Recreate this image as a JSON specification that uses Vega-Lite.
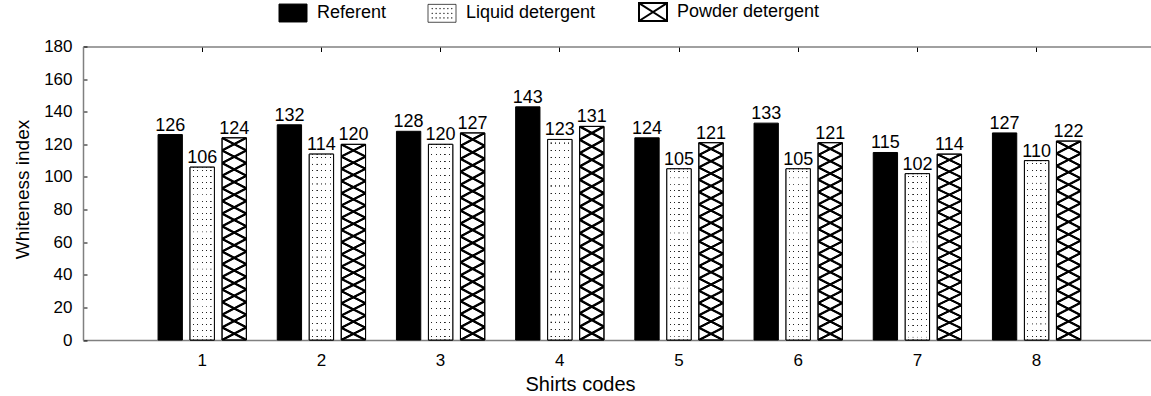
{
  "$schema": "https://vega.github.io/schema/vega-lite/v6.json",
  "autosize": "none",
  "width": 1068,
  "height": 293.5,
  "padding": {"left": 83, "top": 46.5, "right": 0, "bottom": 56},
  "background": "white",
  "config": {
    "font": "Liberation Sans",
    "view": {"stroke": null},
    "axis": {"grid": false, "labelColor": "black", "titleColor": "black", "titleFontWeight": "normal", "labelFont": "Liberation Sans", "titleFont": "Liberation Sans"}
  },
  "data": {
    "values": [
      {"shirt": 1, "type": "Referent", "value": 126},
      {"shirt": 1, "type": "Liquid detergent", "value": 106},
      {"shirt": 1, "type": "Powder detergent", "value": 124},
      {"shirt": 2, "type": "Referent", "value": 132},
      {"shirt": 2, "type": "Liquid detergent", "value": 114},
      {"shirt": 2, "type": "Powder detergent", "value": 120},
      {"shirt": 3, "type": "Referent", "value": 128},
      {"shirt": 3, "type": "Liquid detergent", "value": 120},
      {"shirt": 3, "type": "Powder detergent", "value": 127},
      {"shirt": 4, "type": "Referent", "value": 143},
      {"shirt": 4, "type": "Liquid detergent", "value": 123},
      {"shirt": 4, "type": "Powder detergent", "value": 131},
      {"shirt": 5, "type": "Referent", "value": 124},
      {"shirt": 5, "type": "Liquid detergent", "value": 105},
      {"shirt": 5, "type": "Powder detergent", "value": 121},
      {"shirt": 6, "type": "Referent", "value": 133},
      {"shirt": 6, "type": "Liquid detergent", "value": 105},
      {"shirt": 6, "type": "Powder detergent", "value": 121},
      {"shirt": 7, "type": "Referent", "value": 115},
      {"shirt": 7, "type": "Liquid detergent", "value": 102},
      {"shirt": 7, "type": "Powder detergent", "value": 114},
      {"shirt": 8, "type": "Referent", "value": 127},
      {"shirt": 8, "type": "Liquid detergent", "value": 110},
      {"shirt": 8, "type": "Powder detergent", "value": 122}
    ]
  },
  "resolve": {"axis": {"x": "independent", "y": "independent"}},
  "layer": [
    {
      "mark": {"type": "bar", "stroke": "black", "strokeWidth": 1},
      "encoding": {
        "x": {"field": "shirt", "type": "ordinal",
          "scale": {"domain": [1,2,3,4,5,6,7,8], "paddingInner": 0, "paddingOuter": 0.48, "align": 0.521},
          "axis": {"orient": "bottom", "labelAngle": 0, "labelFontSize": 17, "labelPadding": 17, "tickSize": -5, "tickColor": "black", "domainColor": "#808080", "domainWidth": 1.5,
            "title": "Shirts codes", "titleFontSize": 20, "titleX": 497, "titleY": 50, "titleBaseline": "alphabetic", "titleAlign": "center", "titleAnchor": null}},
        "xOffset": {"field": "type", "type": "nominal",
          "scale": {"domain": ["Referent", "Liquid detergent", "Powder detergent"], "paddingInner": 0.24, "paddingOuter": 0.4825}},
        "y": {"field": "value", "type": "quantitative",
          "scale": {"domain": [0, 180], "nice": false},
          "axis": {"orient": "left", "values": [0,20,40,60,80,100,120,140,160,180], "labelFontSize": 17, "labelPadding": 15, "tickSize": -4, "tickColor": "black", "domainColor": "#808080", "domainWidth": 1.5,
            "title": "Whiteness index", "titleFontSize": 19, "titleX": -55, "titleY": 142.5, "titleBaseline": "alphabetic", "titleAlign": "center", "titleAngle": -90, "titleAnchor": null}},
        "fill": {"field": "type", "type": "nominal",
          "scale": {"domain": ["Referent", "Liquid detergent", "Powder detergent"], "range": ["black", "white", "white"]},
          "legend": {
            "orient": "none", "legendX": 201, "legendY": -43.5, "direction": "horizontal", "columns": 3,
            "title": null, "padding": 0, "symbolSize": 784, "labelFontSize": 18, "labelColor": "black",
            "labelOffset": 15, "columnPadding": 39, "symbolStrokeColor": "black",
            "encode": {
              "symbols": {
                "update": {
                  "shape": {"signal": "datum.value === 'Referent' ? 'M-1,-0.64H1V0.64H-1Z' : datum.value === 'Liquid detergent' ? 'M-1,-0.64H1V0.64H-1Z M-0.72,-0.35h0.04v0.04h-0.04Z M-0.44,-0.35h0.04v0.04h-0.04Z M-0.16,-0.35h0.04v0.04h-0.04Z M0.12,-0.35h0.04v0.04h-0.04Z M0.4,-0.35h0.04v0.04h-0.04Z M0.68,-0.35h0.04v0.04h-0.04Z M-0.72,-0.02h0.04v0.04h-0.04Z M-0.44,-0.02h0.04v0.04h-0.04Z M-0.16,-0.02h0.04v0.04h-0.04Z M0.12,-0.02h0.04v0.04h-0.04Z M0.4,-0.02h0.04v0.04h-0.04Z M0.68,-0.02h0.04v0.04h-0.04Z M-0.72,0.31h0.04v0.04h-0.04Z M-0.44,0.31h0.04v0.04h-0.04Z M-0.16,0.31h0.04v0.04h-0.04Z M0.12,0.31h0.04v0.04h-0.04Z M0.4,0.31h0.04v0.04h-0.04Z M0.68,0.31h0.04v0.04h-0.04Z' : 'M-1,-0.64H1V0.64H-1Z M-1,-0.64L1,0.64 M-1,0.64L1,-0.64'"},
                  "stroke": {"value": "black"},
                  "strokeWidth": {"signal": "datum.value === 'Powder detergent' ? 2 : datum.value === 'Liquid detergent' ? 0.7 : 1"}
                }
              }
            }
          }
        }
      }
    },
    {
      "transform": [{"filter": "datum.type === 'Liquid detergent'"}],
      "mark": {"type": "bar", "fill": {"gradient": "linear", "x1": 0, "y1": 0, "x2": 0, "y2": 1, "stops": [
        {"offset": 0, "color": "rgba(0,0,0,0)"},
        {"offset": 0.0147, "color": "rgba(0,0,0,0)"}, {"offset": 0.0157, "color": "#222"}, {"offset": 0.0201, "color": "#222"}, {"offset": 0.0211, "color": "rgba(0,0,0,0)"},
        {"offset": 0.0504, "color": "rgba(0,0,0,0)"}, {"offset": 0.0514, "color": "#222"}, {"offset": 0.0558, "color": "#222"}, {"offset": 0.0568, "color": "rgba(0,0,0,0)"},
        {"offset": 0.0861, "color": "rgba(0,0,0,0)"}, {"offset": 0.0871, "color": "#222"}, {"offset": 0.0915, "color": "#222"}, {"offset": 0.0925, "color": "rgba(0,0,0,0)"},
        {"offset": 0.1218, "color": "rgba(0,0,0,0)"}, {"offset": 0.1228, "color": "#222"}, {"offset": 0.1272, "color": "#222"}, {"offset": 0.1282, "color": "rgba(0,0,0,0)"},
        {"offset": 0.1575, "color": "rgba(0,0,0,0)"}, {"offset": 0.1585, "color": "#222"}, {"offset": 0.1629, "color": "#222"}, {"offset": 0.1639, "color": "rgba(0,0,0,0)"},
        {"offset": 0.1932, "color": "rgba(0,0,0,0)"}, {"offset": 0.1942, "color": "#222"}, {"offset": 0.1986, "color": "#222"}, {"offset": 0.1996, "color": "rgba(0,0,0,0)"},
        {"offset": 0.2289, "color": "rgba(0,0,0,0)"}, {"offset": 0.2299, "color": "#222"}, {"offset": 0.2343, "color": "#222"}, {"offset": 0.2353, "color": "rgba(0,0,0,0)"},
        {"offset": 0.2647, "color": "rgba(0,0,0,0)"}, {"offset": 0.2657, "color": "#222"}, {"offset": 0.2701, "color": "#222"}, {"offset": 0.2711, "color": "rgba(0,0,0,0)"},
        {"offset": 0.3004, "color": "rgba(0,0,0,0)"}, {"offset": 0.3014, "color": "#222"}, {"offset": 0.3058, "color": "#222"}, {"offset": 0.3068, "color": "rgba(0,0,0,0)"},
        {"offset": 0.3361, "color": "rgba(0,0,0,0)"}, {"offset": 0.3371, "color": "#222"}, {"offset": 0.3415, "color": "#222"}, {"offset": 0.3425, "color": "rgba(0,0,0,0)"},
        {"offset": 0.3718, "color": "rgba(0,0,0,0)"}, {"offset": 0.3728, "color": "#222"}, {"offset": 0.3772, "color": "#222"}, {"offset": 0.3782, "color": "rgba(0,0,0,0)"},
        {"offset": 0.4075, "color": "rgba(0,0,0,0)"}, {"offset": 0.4085, "color": "#222"}, {"offset": 0.4129, "color": "#222"}, {"offset": 0.4139, "color": "rgba(0,0,0,0)"},
        {"offset": 0.4432, "color": "rgba(0,0,0,0)"}, {"offset": 0.4442, "color": "#222"}, {"offset": 0.4486, "color": "#222"}, {"offset": 0.4496, "color": "rgba(0,0,0,0)"},
        {"offset": 0.4789, "color": "rgba(0,0,0,0)"}, {"offset": 0.4799, "color": "#222"}, {"offset": 0.4843, "color": "#222"}, {"offset": 0.4853, "color": "rgba(0,0,0,0)"},
        {"offset": 0.5147, "color": "rgba(0,0,0,0)"}, {"offset": 0.5157, "color": "#222"}, {"offset": 0.5201, "color": "#222"}, {"offset": 0.5211, "color": "rgba(0,0,0,0)"},
        {"offset": 0.5504, "color": "rgba(0,0,0,0)"}, {"offset": 0.5514, "color": "#222"}, {"offset": 0.5558, "color": "#222"}, {"offset": 0.5568, "color": "rgba(0,0,0,0)"},
        {"offset": 0.5861, "color": "rgba(0,0,0,0)"}, {"offset": 0.5871, "color": "#222"}, {"offset": 0.5915, "color": "#222"}, {"offset": 0.5925, "color": "rgba(0,0,0,0)"},
        {"offset": 0.6218, "color": "rgba(0,0,0,0)"}, {"offset": 0.6228, "color": "#222"}, {"offset": 0.6272, "color": "#222"}, {"offset": 0.6282, "color": "rgba(0,0,0,0)"},
        {"offset": 0.6575, "color": "rgba(0,0,0,0)"}, {"offset": 0.6585, "color": "#222"}, {"offset": 0.6629, "color": "#222"}, {"offset": 0.6639, "color": "rgba(0,0,0,0)"},
        {"offset": 0.6932, "color": "rgba(0,0,0,0)"}, {"offset": 0.6942, "color": "#222"}, {"offset": 0.6986, "color": "#222"}, {"offset": 0.6996, "color": "rgba(0,0,0,0)"},
        {"offset": 0.7289, "color": "rgba(0,0,0,0)"}, {"offset": 0.7299, "color": "#222"}, {"offset": 0.7343, "color": "#222"}, {"offset": 0.7353, "color": "rgba(0,0,0,0)"},
        {"offset": 0.7647, "color": "rgba(0,0,0,0)"}, {"offset": 0.7657, "color": "#222"}, {"offset": 0.7701, "color": "#222"}, {"offset": 0.7711, "color": "rgba(0,0,0,0)"},
        {"offset": 0.8004, "color": "rgba(0,0,0,0)"}, {"offset": 0.8014, "color": "#222"}, {"offset": 0.8058, "color": "#222"}, {"offset": 0.8068, "color": "rgba(0,0,0,0)"},
        {"offset": 0.8361, "color": "rgba(0,0,0,0)"}, {"offset": 0.8371, "color": "#222"}, {"offset": 0.8415, "color": "#222"}, {"offset": 0.8425, "color": "rgba(0,0,0,0)"},
        {"offset": 0.8718, "color": "rgba(0,0,0,0)"}, {"offset": 0.8728, "color": "#222"}, {"offset": 0.8772, "color": "#222"}, {"offset": 0.8782, "color": "rgba(0,0,0,0)"},
        {"offset": 0.9075, "color": "rgba(0,0,0,0)"}, {"offset": 0.9085, "color": "#222"}, {"offset": 0.9129, "color": "#222"}, {"offset": 0.9139, "color": "rgba(0,0,0,0)"},
        {"offset": 0.9432, "color": "rgba(0,0,0,0)"}, {"offset": 0.9442, "color": "#222"}, {"offset": 0.9486, "color": "#222"}, {"offset": 0.9496, "color": "rgba(0,0,0,0)"},
        {"offset": 0.9789, "color": "rgba(0,0,0,0)"}, {"offset": 0.9799, "color": "#222"}, {"offset": 0.9843, "color": "#222"}, {"offset": 0.9853, "color": "rgba(0,0,0,0)"},
        {"offset": 1, "color": "rgba(0,0,0,0)"}
      ]}},
      "encoding": {
        "x": {"field": "shirt", "type": "ordinal", "axis": null},
        "xOffset": {"field": "type", "type": "nominal"},
        "y": {"field": "value", "type": "quantitative", "axis": null}
      }
    },
    {
      "transform": [{"filter": "datum.type === 'Liquid detergent'"}],
      "mark": {"type": "bar", "stroke": "black", "strokeWidth": 1, "fill": {"gradient": "linear", "x1": 0, "y1": 0, "x2": 1, "y2": 0, "stops": [
        {"offset": 0, "color": "white"}, {"offset": 0.115, "color": "white"}, {"offset": 0.12, "color": "rgba(255,255,255,0)"}, {"offset": 0.16, "color": "rgba(255,255,255,0)"}, {"offset": 0.165, "color": "white"},
        {"offset": 0.295, "color": "white"}, {"offset": 0.30, "color": "rgba(255,255,255,0)"}, {"offset": 0.34, "color": "rgba(255,255,255,0)"}, {"offset": 0.345, "color": "white"},
        {"offset": 0.475, "color": "white"}, {"offset": 0.48, "color": "rgba(255,255,255,0)"}, {"offset": 0.52, "color": "rgba(255,255,255,0)"}, {"offset": 0.525, "color": "white"},
        {"offset": 0.655, "color": "white"}, {"offset": 0.66, "color": "rgba(255,255,255,0)"}, {"offset": 0.70, "color": "rgba(255,255,255,0)"}, {"offset": 0.705, "color": "white"},
        {"offset": 0.835, "color": "white"}, {"offset": 0.84, "color": "rgba(255,255,255,0)"}, {"offset": 0.88, "color": "rgba(255,255,255,0)"}, {"offset": 0.885, "color": "white"},
        {"offset": 1, "color": "white"}
      ]}},
      "encoding": {
        "x": {"field": "shirt", "type": "ordinal", "axis": null},
        "xOffset": {"field": "type", "type": "nominal"},
        "y": {"field": "value", "type": "quantitative", "axis": null}
      }
    },
    {
      "transform": [{"filter": "datum.type === 'Powder detergent'"}],
      "mark": {"type": "bar", "fill": {"gradient": "linear", "x1": 0, "y1": 0, "x2": 1, "y2": 16, "stops": [
        {"offset": 0, "color": "black"}, {"offset": 0.000272, "color": "black"}, {"offset": 0.000545, "color": "rgba(0,0,0,0)"},
        {"offset": 0.003346, "color": "rgba(0,0,0,0)"}, {"offset": 0.003619, "color": "black"}, {"offset": 0.004163, "color": "black"}, {"offset": 0.004436, "color": "rgba(0,0,0,0)"},
        {"offset": 0.007237, "color": "rgba(0,0,0,0)"}, {"offset": 0.007510, "color": "black"}, {"offset": 0.008054, "color": "black"}, {"offset": 0.008327, "color": "rgba(0,0,0,0)"},
        {"offset": 0.011128, "color": "rgba(0,0,0,0)"}, {"offset": 0.011401, "color": "black"}, {"offset": 0.011945, "color": "black"}, {"offset": 0.012218, "color": "rgba(0,0,0,0)"},
        {"offset": 0.015019, "color": "rgba(0,0,0,0)"}, {"offset": 0.015292, "color": "black"}, {"offset": 0.015836, "color": "black"}, {"offset": 0.016109, "color": "rgba(0,0,0,0)"},
        {"offset": 0.018910, "color": "rgba(0,0,0,0)"}, {"offset": 0.019183, "color": "black"}, {"offset": 0.019727, "color": "black"}, {"offset": 0.020000, "color": "rgba(0,0,0,0)"},
        {"offset": 0.022801, "color": "rgba(0,0,0,0)"}, {"offset": 0.023074, "color": "black"}, {"offset": 0.023618, "color": "black"}, {"offset": 0.023891, "color": "rgba(0,0,0,0)"},
        {"offset": 0.026692, "color": "rgba(0,0,0,0)"}, {"offset": 0.026965, "color": "black"}, {"offset": 0.027509, "color": "black"}, {"offset": 0.027782, "color": "rgba(0,0,0,0)"},
        {"offset": 0.030583, "color": "rgba(0,0,0,0)"}, {"offset": 0.030856, "color": "black"}, {"offset": 0.031400, "color": "black"}, {"offset": 0.031673, "color": "rgba(0,0,0,0)"},
        {"offset": 0.034474, "color": "rgba(0,0,0,0)"}, {"offset": 0.034747, "color": "black"}, {"offset": 0.035291, "color": "black"}, {"offset": 0.035564, "color": "rgba(0,0,0,0)"},
        {"offset": 0.038366, "color": "rgba(0,0,0,0)"}, {"offset": 0.038639, "color": "black"}, {"offset": 0.039183, "color": "black"}, {"offset": 0.039456, "color": "rgba(0,0,0,0)"},
        {"offset": 0.042257, "color": "rgba(0,0,0,0)"}, {"offset": 0.042530, "color": "black"}, {"offset": 0.043074, "color": "black"}, {"offset": 0.043347, "color": "rgba(0,0,0,0)"},
        {"offset": 0.046148, "color": "rgba(0,0,0,0)"}, {"offset": 0.046421, "color": "black"}, {"offset": 0.046965, "color": "black"}, {"offset": 0.047238, "color": "rgba(0,0,0,0)"},
        {"offset": 0.050039, "color": "rgba(0,0,0,0)"}, {"offset": 0.050312, "color": "black"}, {"offset": 0.050856, "color": "black"}, {"offset": 0.051129, "color": "rgba(0,0,0,0)"},
        {"offset": 0.053930, "color": "rgba(0,0,0,0)"}, {"offset": 0.054203, "color": "black"}, {"offset": 0.054747, "color": "black"}, {"offset": 0.055020, "color": "rgba(0,0,0,0)"},
        {"offset": 0.057821, "color": "rgba(0,0,0,0)"}, {"offset": 0.058094, "color": "black"}, {"offset": 0.058638, "color": "black"}, {"offset": 0.058911, "color": "rgba(0,0,0,0)"},
        {"offset": 0.061712, "color": "rgba(0,0,0,0)"}, {"offset": 0.061985, "color": "black"}, {"offset": 0.062529, "color": "black"}, {"offset": 0.062802, "color": "rgba(0,0,0,0)"},
        {"offset": 0.065603, "color": "rgba(0,0,0,0)"}, {"offset": 0.065876, "color": "black"}, {"offset": 0.066420, "color": "black"}, {"offset": 0.066693, "color": "rgba(0,0,0,0)"},
        {"offset": 1, "color": "rgba(0,0,0,0)"}
      ]}},
      "encoding": {
        "x": {"field": "shirt", "type": "ordinal", "axis": null},
        "xOffset": {"field": "type", "type": "nominal"},
        "y": {"field": "value", "type": "quantitative", "axis": null}
      }
    },
    {
      "transform": [{"filter": "datum.type === 'Powder detergent'"}],
      "mark": {"type": "bar", "stroke": "black", "strokeWidth": 1, "fill": {"gradient": "linear", "x1": 1, "y1": 0, "x2": 0, "y2": 16, "stops": [
        {"offset": 0, "color": "black"}, {"offset": 0.000272, "color": "black"}, {"offset": 0.000545, "color": "rgba(0,0,0,0)"},
        {"offset": 0.003346, "color": "rgba(0,0,0,0)"}, {"offset": 0.003619, "color": "black"}, {"offset": 0.004163, "color": "black"}, {"offset": 0.004436, "color": "rgba(0,0,0,0)"},
        {"offset": 0.007237, "color": "rgba(0,0,0,0)"}, {"offset": 0.007510, "color": "black"}, {"offset": 0.008054, "color": "black"}, {"offset": 0.008327, "color": "rgba(0,0,0,0)"},
        {"offset": 0.011128, "color": "rgba(0,0,0,0)"}, {"offset": 0.011401, "color": "black"}, {"offset": 0.011945, "color": "black"}, {"offset": 0.012218, "color": "rgba(0,0,0,0)"},
        {"offset": 0.015019, "color": "rgba(0,0,0,0)"}, {"offset": 0.015292, "color": "black"}, {"offset": 0.015836, "color": "black"}, {"offset": 0.016109, "color": "rgba(0,0,0,0)"},
        {"offset": 0.018910, "color": "rgba(0,0,0,0)"}, {"offset": 0.019183, "color": "black"}, {"offset": 0.019727, "color": "black"}, {"offset": 0.020000, "color": "rgba(0,0,0,0)"},
        {"offset": 0.022801, "color": "rgba(0,0,0,0)"}, {"offset": 0.023074, "color": "black"}, {"offset": 0.023618, "color": "black"}, {"offset": 0.023891, "color": "rgba(0,0,0,0)"},
        {"offset": 0.026692, "color": "rgba(0,0,0,0)"}, {"offset": 0.026965, "color": "black"}, {"offset": 0.027509, "color": "black"}, {"offset": 0.027782, "color": "rgba(0,0,0,0)"},
        {"offset": 0.030583, "color": "rgba(0,0,0,0)"}, {"offset": 0.030856, "color": "black"}, {"offset": 0.031400, "color": "black"}, {"offset": 0.031673, "color": "rgba(0,0,0,0)"},
        {"offset": 0.034474, "color": "rgba(0,0,0,0)"}, {"offset": 0.034747, "color": "black"}, {"offset": 0.035291, "color": "black"}, {"offset": 0.035564, "color": "rgba(0,0,0,0)"},
        {"offset": 0.038366, "color": "rgba(0,0,0,0)"}, {"offset": 0.038639, "color": "black"}, {"offset": 0.039183, "color": "black"}, {"offset": 0.039456, "color": "rgba(0,0,0,0)"},
        {"offset": 0.042257, "color": "rgba(0,0,0,0)"}, {"offset": 0.042530, "color": "black"}, {"offset": 0.043074, "color": "black"}, {"offset": 0.043347, "color": "rgba(0,0,0,0)"},
        {"offset": 0.046148, "color": "rgba(0,0,0,0)"}, {"offset": 0.046421, "color": "black"}, {"offset": 0.046965, "color": "black"}, {"offset": 0.047238, "color": "rgba(0,0,0,0)"},
        {"offset": 0.050039, "color": "rgba(0,0,0,0)"}, {"offset": 0.050312, "color": "black"}, {"offset": 0.050856, "color": "black"}, {"offset": 0.051129, "color": "rgba(0,0,0,0)"},
        {"offset": 0.053930, "color": "rgba(0,0,0,0)"}, {"offset": 0.054203, "color": "black"}, {"offset": 0.054747, "color": "black"}, {"offset": 0.055020, "color": "rgba(0,0,0,0)"},
        {"offset": 0.057821, "color": "rgba(0,0,0,0)"}, {"offset": 0.058094, "color": "black"}, {"offset": 0.058638, "color": "black"}, {"offset": 0.058911, "color": "rgba(0,0,0,0)"},
        {"offset": 0.061712, "color": "rgba(0,0,0,0)"}, {"offset": 0.061985, "color": "black"}, {"offset": 0.062529, "color": "black"}, {"offset": 0.062802, "color": "rgba(0,0,0,0)"},
        {"offset": 0.065603, "color": "rgba(0,0,0,0)"}, {"offset": 0.065876, "color": "black"}, {"offset": 0.066420, "color": "black"}, {"offset": 0.066693, "color": "rgba(0,0,0,0)"},
        {"offset": 1, "color": "rgba(0,0,0,0)"}
      ]}},
      "encoding": {
        "x": {"field": "shirt", "type": "ordinal", "axis": null},
        "xOffset": {"field": "type", "type": "nominal"},
        "y": {"field": "value", "type": "quantitative", "axis": null}
      }
    },
    {
      "mark": {"type": "text", "baseline": "alphabetic", "dy": -4, "fontSize": 18, "color": "black"},
      "encoding": {
        "x": {"field": "shirt", "type": "ordinal",
          "axis": {"orient": "top", "labels": false, "title": null, "tickSize": -5, "tickColor": "black", "domainColor": "#808080", "domainWidth": 1.5}},
        "xOffset": {"field": "type", "type": "nominal"},
        "y": {"field": "value", "type": "quantitative", "axis": null},
        "text": {"field": "value", "type": "quantitative"}
      }
    }
  ]
}
